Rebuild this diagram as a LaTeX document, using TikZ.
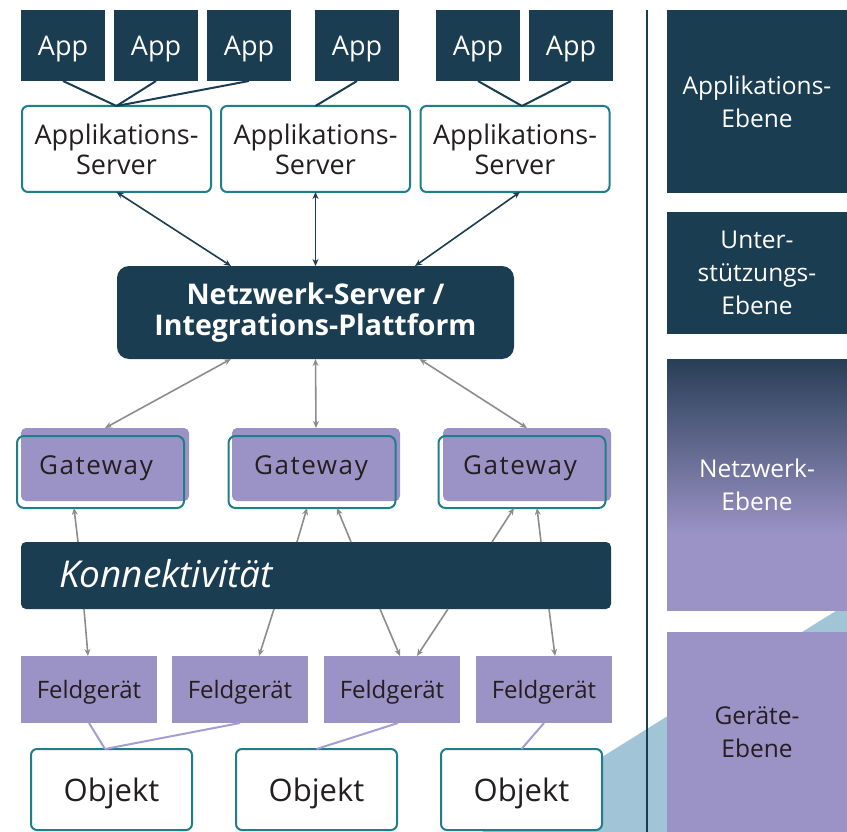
\documentclass[tikz,border=0pt]{standalone}
\usepackage{fontspec}
\setmainfont{Open Sans}
\usetikzlibrary{arrows.meta}

\definecolor{navy}{RGB}{27,61,81}
\definecolor{tealline}{RGB}{30,127,136}
\definecolor{purp}{RGB}{155,147,198}
\definecolor{purpline}{RGB}{166,156,214}
\definecolor{arrgray}{RGB}{140,140,140}
\definecolor{skyblue}{RGB}{161,197,214}
\definecolor{textdark}{RGB}{35,31,32}
\definecolor{netztop}{RGB}{40,62,86}

\pgfdeclareverticalshading{netzshade}{100bp}{color(0bp)=(purp); color(25bp)=(purp); color(40bp)=(purp); color(75bp)=(netztop); color(100bp)=(netztop)}

\begin{document}
\begin{tikzpicture}[x=1pt,y=-1pt,
  every node/.style={inner sep=0pt, outer sep=0pt},
  appbox/.style={fill=navy, text=white, minimum width=84pt, minimum height=71pt,
    text depth=0pt, font=\fontsize{27}{30}\selectfont},
  serverbox/.style={draw=tealline, line width=2pt, fill=white, rounded corners=6pt,
    minimum width=189pt, minimum height=86pt, align=center, text=textdark,
    font=\fontsize{27}{30}\selectfont},
  gwback/.style={fill=purp, rounded corners=5pt, minimum width=168pt, minimum height=73pt},
  gwframe/.style={draw=tealline, line width=2pt, rounded corners=7pt, minimum width=167pt, minimum height=72pt},
  gwtext/.style={text=textdark, font=\fontsize{26}{30}\selectfont\addfontfeature{LetterSpace=6}},
  fieldbox/.style={fill=purp, minimum width=136pt, minimum height=67pt, text=textdark,
    text depth=0pt, font=\fontsize{24}{28}\selectfont},
  objbox/.style={draw=tealline, line width=2pt, fill=white, rounded corners=6pt,
    minimum width=161pt, minimum height=81pt, text=textdark, text depth=0pt,
    font=\fontsize{31}{36}\selectfont},
  layerbox/.style={minimum width=180pt, align=center, font=\fontsize{24.5}{33}\selectfont},
  appline/.style={draw=navy, line width=2pt},
  fieldline/.style={draw=purpline, line width=2pt},
  darkarrow/.style={draw=navy, line width=1.6pt, {Stealth[length=7pt,width=6pt]}-{Stealth[length=7pt,width=6pt]}},
  grayboth/.style={draw=arrgray, line width=1.6pt, {Stealth[length=7pt,width=6pt]}-{Stealth[length=7pt,width=6pt]}},
  grayone/.style={draw=arrgray, line width=1.6pt, -{Stealth[length=7pt,width=6pt]}}
]
\useasboundingbox (0,0) rectangle (847,832);

% light blue wedge in the lower right corner
\fill[skyblue] (482,832) -- (847,604) -- (847,832) -- cycle;

% divider between diagram and layer column
\draw[navy, line width=2pt] (647,10) coordinate (divtop) -- (647,832) coordinate (divbot);

% layer column
\node[layerbox, fill=navy, text=white, minimum height=183pt] (lapp) at (757,101.5) {Applikations-\\Ebene};
\node[layerbox, fill=navy, text=white, minimum height=122pt] (lsup) at (757,273) {Unter-\\stützungs-\\Ebene};
\node[layerbox, shading=netzshade, text=white, minimum height=251pt] (lnet) at (757,484.5) {Netzwerk-\\Ebene};
\node[layerbox, fill=purp, text=textdark, minimum height=200pt] (ldev) at (757,732) {Geräte-\\Ebene};

% applications
\node[appbox] (app1) at (63,45.5) {App};
\node[appbox] (app2) at (156,45.5) {App};
\node[appbox] (app3) at (249,45.5) {App};
\node[appbox] (app4) at (357,45.5) {App};
\node[appbox] (app5) at (478,45.5) {App};
\node[appbox] (app6) at (571,45.5) {App};

% application servers
\node[serverbox] (as1) at (116.5,149) {Applikations-\\Server};
\node[serverbox] (as2) at (315.5,149) {Applikations-\\Server};
\node[serverbox] (as3) at (515,149) {Applikations-\\Server};

\draw[appline] (app1.south) -- (as1.north);
\draw[appline] (app2.south) -- (as1.north);
\draw[appline] (app3.south) -- (as1.north);
\draw[appline] (app4.south) -- (as2.north);
\draw[appline] (app5.south) -- ([xshift=7pt]as3.north);
\draw[appline] (app6.south) -- ([xshift=7pt]as3.north);

% network server / integration platform
\node[fill=navy, rounded corners=12pt, minimum width=397pt, minimum height=93pt,
  text=white, align=center, font=\fontsize{28.5}{31}\selectfont\bfseries] (ns) at (315.5,312.5)
  {Netzwerk-Server /\\Integrations-Plattform};

\draw[darkarrow] (as1.south) -- ([xshift=-84.5pt]ns.north);
\draw[darkarrow] (as2.south) -- (ns.north);
\draw[darkarrow] ([xshift=5pt]as3.south) -- ([xshift=99.5pt]ns.north);

% gateways
\node[gwback] (g1b) at (105,464.5) {};
\node[gwback] (g2b) at (316,464.5) {};
\node[gwback] (g3b) at (527,464.5) {};
\node[gwframe] (g1) at (100.5,472) {};
\node[gwframe] (g2) at (312,472) {};
\node[gwframe] (g3) at (522,472) {};
\node[gwtext] (g1t) at (96,468) {Gateway};
\node[gwtext] (g2t) at (311,468) {Gateway};
\node[gwtext] (g3t) at (520,468) {Gateway};

\draw[grayboth] ([xshift=-84.5pt]ns.south) -- (g1b.north);
\draw[grayboth] (ns.south) -- (g2b.north);
\draw[grayboth] ([xshift=104pt]ns.south) -- (g3b.north);

% connectivity bar
\node[fill=navy, rounded corners=5pt, minimum width=590pt, minimum height=67pt] (kon) at (316,575.5) {};
\node[anchor=base west, text=white, font=\fontsize{37}{42}\selectfont\itshape] (kont) at (59,587) {Konnektivität};

\draw[grayone] (78,0 |- kon.north) -- (74,0 |- g1.south);
\draw[grayone] (297,0 |- kon.north) -- (307,0 |- g2.south);
\draw[grayone] (351,0 |- kon.north) -- (337,0 |- g2.south);
\draw[grayone] (492,0 |- kon.north) -- (514,0 |- g3.south);
\draw[grayone] (541,0 |- kon.north) -- (537,0 |- g3.south);

% field devices
\node[fieldbox] (f1) at (89,689.5) {Feldgerät};
\node[fieldbox] (f2) at (240,689.5) {Feldgerät};
\node[fieldbox] (f3) at (392,689.5) {Feldgerät};
\node[fieldbox] (f4) at (544,689.5) {Feldgerät};

\draw[grayone] (84,0 |- kon.south) -- (88,0 |- f1.north);
\draw[grayone] (274,0 |- kon.south) -- (259,0 |- f2.north);
\draw[grayone] (380,0 |- kon.south) -- (400,0 |- f3.north);
\draw[grayone] (448,0 |- kon.south) -- (417,0 |- f3.north);
\draw[grayone] (549,0 |- kon.south) -- (555,0 |- f4.north);

% physical objects
\node[objbox] (o1) at (111.5,789.5) {Objekt};
\node[objbox] (o2) at (316.5,789.5) {Objekt};
\node[objbox] (o3) at (521.5,789.5) {Objekt};

\draw[fieldline] (f1.south) -- ([xshift=-6.5pt]o1.north);
\draw[fieldline] (f2.south) -- ([xshift=-6.5pt]o1.north);
\draw[fieldline] ([xshift=6pt]f3.south) -- (o2.north);
\draw[fieldline] (f4.south) -- (o3.north);
\end{tikzpicture}
\end{document}
